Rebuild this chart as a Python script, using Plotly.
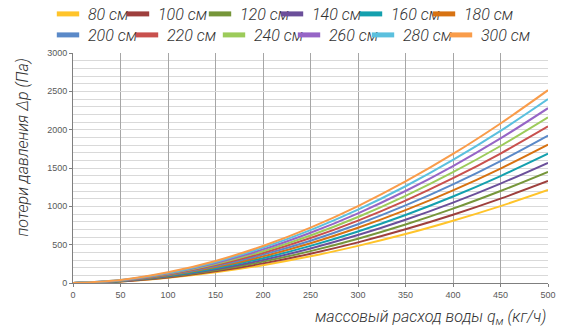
import plotly.graph_objects as go

flow = [0, 50, 100, 150, 200, 250, 300, 350, 400, 450, 500]

lengths = ["80 см", "100 см", "120 см", "140 см", "160 см", "180 см",
           "200 см", "220 см", "240 см", "260 см", "280 см", "300 см"]

colors = ["#FFC42A", "#9E3F3D", "#76963A", "#6B4F9A", "#14A0AE", "#D77212",
          "#5A89C8", "#C8504D", "#9CCB5A", "#9665C6", "#5BC0DE", "#F99C4A"]

dp_80 = [0, 19, 67, 139, 233, 348, 484, 638, 812, 1003, 1213]
dp_100 = [0, 21, 73, 152, 256, 382, 530, 700, 890, 1100, 1330]
dp_120 = [0, 23, 80, 166, 279, 416, 578, 763, 970, 1200, 1450]
dp_140 = [0, 25, 87, 180, 301, 450, 625, 825, 1049, 1297, 1568]
dp_160 = [0, 27, 93, 193, 324, 484, 672, 887, 1128, 1395, 1686]
dp_180 = [0, 29, 100, 207, 347, 518, 720, 950, 1208, 1493, 1805]
dp_200 = [0, 30, 106, 220, 370, 552, 767, 1012, 1287, 1591, 1923]
dp_220 = [0, 32, 113, 234, 392, 586, 814, 1075, 1367, 1689, 2042]
dp_240 = [0, 34, 119, 247, 415, 620, 861, 1137, 1446, 1787, 2160]
dp_260 = [0, 36, 126, 261, 438, 655, 909, 1200, 1526, 1886, 2280]
dp_280 = [0, 38, 132, 275, 461, 689, 956, 1262, 1605, 1984, 2398]
dp_300 = [0, 40, 139, 288, 483, 722, 1003, 1324, 1683, 2081, 2515]

series = [dp_80, dp_100, dp_120, dp_140, dp_160, dp_180,
          dp_200, dp_220, dp_240, dp_260, dp_280, dp_300]

# left edge (px) of each legend entry and its row centre (px from top)
legend_x = [48, 118, 200, 272, 351, 424,
            48, 127, 214, 289, 363, 441]
legend_y = [14] * 6 + [35] * 6

text_font = dict(family="Roboto", size=16, color="#333333", style="italic", weight=300)

fig = go.Figure()

for i in range(len(series)):
    fig.add_trace(go.Scatter(
        x=flow, y=series[i], mode="lines", line=dict(color=colors[i], width=2, shape="spline"),
        showlegend=False, hoverinfo="skip"))

legends = {}
for i in range(len(series)):
    key = "legend" if i == 0 else "legend%d" % (i + 1)
    fig.add_trace(go.Scatter(
        x=[None], y=[None], mode="markers", name=lengths[i],
        marker=dict(symbol="line-ew", size=16, color=colors[i],
                    line=dict(color=colors[i], width=5)),
        legend=key))
    legends[key] = dict(orientation="h", xref="container", yref="container",
                        x=legend_x[i] / 562, y=1 - legend_y[i] / 329,
                        xanchor="left", yanchor="middle", font=text_font,
                        itemwidth=30, bgcolor="rgba(0,0,0,0)")

fig.update_layout(**legends)

fig.update_layout(
    width=562, height=329,
    margin=dict(l=73, r=14, t=53, b=46, autoexpand=False),
    plot_bgcolor="white", paper_bgcolor="white",
    xaxis=dict(range=[0, 500], dtick=50, showgrid=True, gridcolor="#A6A6A6", gridwidth=1,
               showline=True, linecolor="#7F7F7F", linewidth=1,
               ticks="outside", ticklen=3, tickcolor="#7F7F7F",
               tickfont=dict(family="Liberation Sans", size=9, color="#595959"),
               zeroline=False),
    yaxis=dict(range=[0, 3000], dtick=500, showgrid=True, gridcolor="#D9D9D9", gridwidth=1,
               minor=dict(dtick=100, showgrid=True, gridcolor="#D9D9D9", gridwidth=1),
               showline=True, linecolor="#7F7F7F", linewidth=1,
               ticks="outside", ticklen=3, tickcolor="#7F7F7F",
               tickfont=dict(family="Liberation Sans", size=9, color="#595959"),
               zeroline=False),
    annotations=[
        dict(text="потери давления Δp (Па)", textangle=-90, showarrow=False,
             xref="paper", yref="paper", x=-0.107, y=0.59,
             xanchor="center", yanchor="middle", font=text_font),
        dict(text="массовый расход воды q<sub>м</sub> (кг/ч)", showarrow=False,
             xref="paper", yref="paper", x=1.0, y=-0.152,
             xanchor="right", yanchor="middle", font=text_font),
    ],
)

# the page body has a default 8px margin; drop it so the chart sits at the window corner
fig.write_html("out.html", config={"displayModeBar": False},
               post_script="document.body.style.margin = '0';")
